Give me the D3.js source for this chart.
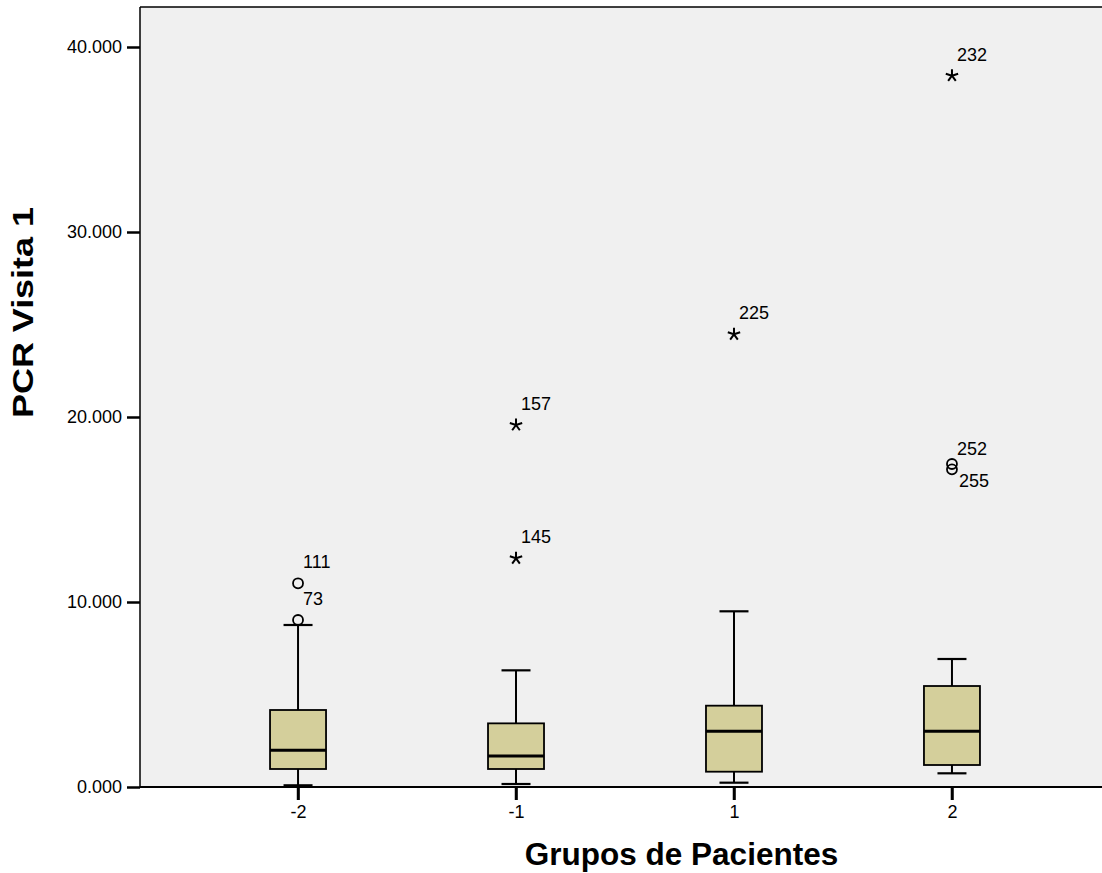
<!DOCTYPE html>
<html>
<head>
<meta charset="utf-8">
<script src="https://cdn.jsdelivr.net/npm/d3@7"></script>
<style>
  html, body { margin: 0; padding: 0; background: #ffffff; }
  svg { display: block; font-family: Arial, "Liberation Sans", sans-serif; }
</style>
</head>
<body>
<svg id="chart" width="1102" height="873"></svg>
<script>
// ---- data ----
const groups = ["-2", "-1", "1", "2"];
const q1 = [973, 973, 827, 1189];
const median = [1984, 1676, 3010, 3010];
const q3 = [4162, 3440, 4396, 5459];
const whiskerLow = [92, 162, 233, 740];
const whiskerHigh = [8757, 6306, 9497, 6919];
// outliers: group, value, case id, type ("o" = outlier, "*" = extreme)
const outlierGroup = ["-2", "-2", "-1", "-1", "1", "2", "2", "2"];
const outlierValue = [11011, 9027, 19568, 12362, 24470, 38449, 17460, 17170];
const outlierCase = ["111", "73", "157", "145", "225", "232", "252", "255"];
const outlierType = ["o", "o", "*", "*", "*", "*", "o", "o"];
const yTicks = [0, 10000, 20000, 30000, 40000];
const xTitle = "Grupos de Pacientes";
const yTitle = "PCR Visita 1";

// ---- layout ----
const svg = d3.select("#chart");
const plot = { left: 140, top: 7, right: 1110, bottom: 787 };

const x = d3.scalePoint().domain(groups).range([plot.left, plot.right]).padding(0.725);
const y = d3.scaleLinear().domain([0, 40000]).range([plot.bottom, 47]);

// background
svg.append("rect")
  .attr("x", plot.left).attr("y", plot.top)
  .attr("width", plot.right - plot.left).attr("height", plot.bottom - plot.top)
  .attr("fill", "#f0f0f0");

// frame (top)
svg.append("line").attr("x1", plot.left).attr("x2", plot.right)
  .attr("y1", plot.top).attr("y2", plot.top)
  .attr("stroke", "#000").attr("stroke-width", 1.5);

// y axis
const fmt = v => d3.format(".3f")(v / 1000);
const yAxis = svg.append("g").attr("transform", `translate(${plot.left},0)`)
  .call(d3.axisLeft(y).tickValues(yTicks).tickSize(13).tickPadding(5).tickFormat(fmt));
yAxis.select(".domain").attr("d", `M0,${plot.top}V${plot.bottom}`)
  .attr("stroke", "#000").attr("stroke-width", 1.5);
yAxis.selectAll(".tick line").attr("stroke", "#000").attr("stroke-width", 2.5);
yAxis.selectAll(".tick text").attr("font-size", 18).attr("fill", "#000")
  .attr("font-family", "Arial, 'Liberation Sans', sans-serif");

// x axis
const xAxis = svg.append("g").attr("transform", `translate(0,${plot.bottom})`)
  .call(d3.axisBottom(x).tickSize(13).tickPadding(5));
xAxis.select(".domain").attr("d", `M${plot.left},0H${plot.right}`)
  .attr("stroke", "#000").attr("stroke-width", 2);
xAxis.selectAll(".tick line").attr("stroke", "#000").attr("stroke-width", 2.5);
xAxis.selectAll(".tick text").attr("font-size", 18).attr("fill", "#000")
  .attr("font-family", "Arial, 'Liberation Sans', sans-serif");

// boxes
const boxW = 56, capW = 29;
const data = groups.map((g, i) => ({
  g, q1: q1[i], med: median[i], q3: q3[i], lo: whiskerLow[i], hi: whiskerHigh[i]
}));
const gBox = svg.append("g").selectAll("g").data(data).join("g");

gBox.append("line") // upper whisker
  .attr("x1", d => x(d.g)).attr("x2", d => x(d.g))
  .attr("y1", d => y(d.q3)).attr("y2", d => y(d.hi))
  .attr("stroke", "#000").attr("stroke-width", 2);
gBox.append("line") // lower whisker
  .attr("x1", d => x(d.g)).attr("x2", d => x(d.g))
  .attr("y1", d => y(d.q1)).attr("y2", d => y(d.lo))
  .attr("stroke", "#000").attr("stroke-width", 2);
gBox.append("line")
  .attr("x1", d => x(d.g) - capW / 2).attr("x2", d => x(d.g) + capW / 2)
  .attr("y1", d => y(d.hi)).attr("y2", d => y(d.hi))
  .attr("stroke", "#000").attr("stroke-width", 2.2);
gBox.append("line")
  .attr("x1", d => x(d.g) - capW / 2).attr("x2", d => x(d.g) + capW / 2)
  .attr("y1", d => y(d.lo)).attr("y2", d => y(d.lo))
  .attr("stroke", "#000").attr("stroke-width", 2.2);
gBox.append("rect")
  .attr("x", d => x(d.g) - boxW / 2).attr("width", boxW)
  .attr("y", d => y(d.q3)).attr("height", d => y(d.q1) - y(d.q3))
  .attr("fill", "#d4cf9b").attr("stroke", "#000").attr("stroke-width", 1.8);
gBox.append("line")
  .attr("x1", d => x(d.g) - boxW / 2).attr("x2", d => x(d.g) + boxW / 2)
  .attr("y1", d => y(d.med)).attr("y2", d => y(d.med))
  .attr("stroke", "#000").attr("stroke-width", 3);

// x-axis tick marks as solid rects on top (below the axis line)
svg.append("g").selectAll("rect").data(groups).join("rect")
  .attr("x", d => x(d) - 1.25).attr("width", 2.5)
  .attr("y", plot.bottom).attr("height", 13)
  .attr("fill", "#000");

// outliers
const outs = outlierValue.map((v, i) => ({
  g: outlierGroup[i], v, id: outlierCase[i], type: outlierType[i]
}));
// label placement: if another outlier in same group is just above, put label below
outs.forEach(o => {
  o.below = outs.some(p => p !== o && p.g === o.g && p.v > o.v && (y(o.v) - y(p.v)) < 10);
  o.close = outs.some(p => p !== o && p.g === o.g && p.v < o.v && (y(p.v) - y(o.v)) < 10);
});
const starPath = (() => {
  const r = 6.5; let d = "";
  for (let k = 0; k < 5; k++) {
    const a = -Math.PI / 2 + k * 2 * Math.PI / 5;
    d += `M0,0L${(r * Math.cos(a)).toFixed(2)},${(r * Math.sin(a)).toFixed(2)}`;
  }
  return d;
})();
const gOut = svg.append("g").selectAll("g").data(outs).join("g")
  .attr("transform", d => `translate(${x(d.g)},${y(d.v)})`);
gOut.filter(d => d.type === "o").append("circle")
  .attr("r", 5).attr("fill", "none").attr("stroke", "#000").attr("stroke-width", 1.8);
gOut.filter(d => d.type === "*").append("path")
  .attr("d", starPath).attr("fill", "none").attr("stroke", "#000").attr("stroke-width", 2);
gOut.append("text")
  .attr("x", d => d.below ? 7 : 5)
  .attr("y", d => d.below ? 18 : (d.close ? -9 : -15))
  .attr("font-size", 18).attr("fill", "#000")
  .text(d => d.id);

// titles
svg.append("text")
  .attr("x", 681.5).attr("y", 865)
  .attr("text-anchor", "middle").attr("font-weight", "bold").attr("font-size", 31.5)
  .text(xTitle);
svg.append("text")
  .attr("transform", "translate(33,312.5) rotate(-90)")
  .attr("text-anchor", "middle").attr("font-weight", "bold").attr("font-size", 30)
  .attr("textLength", 211).attr("lengthAdjust", "spacingAndGlyphs")
  .text(yTitle);
</script>
</body>
</html>
